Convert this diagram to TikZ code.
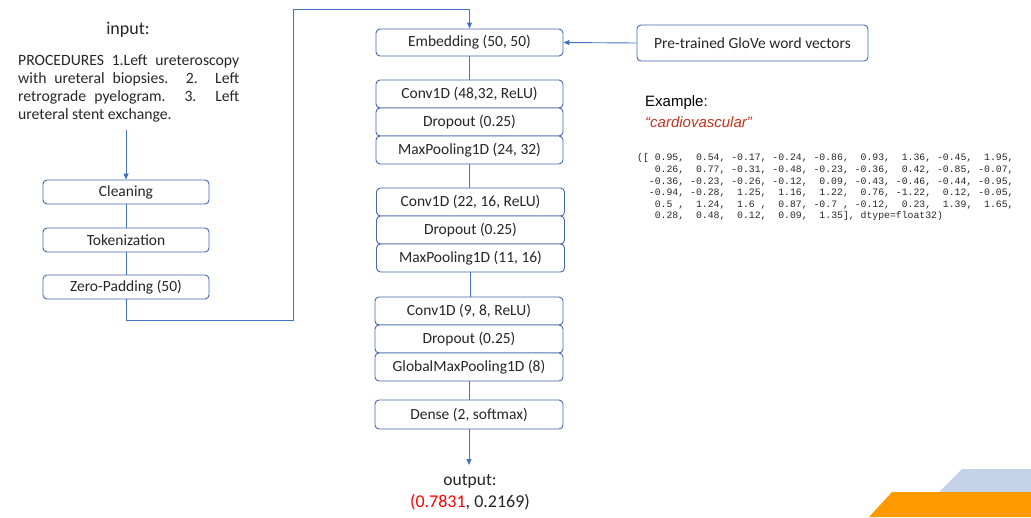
\documentclass[tikz,border=0pt]{standalone}
\usepackage{fontspec}
\setmainfont{Carlito}
\newfontfamily\helv{Liberation Sans}
\newfontfamily\monof{Liberation Mono}
\usetikzlibrary{arrows.meta}
\definecolor{boxc}{RGB}{68,104,170}
\definecolor{linec}{RGB}{68,114,196}
\definecolor{txt}{RGB}{38,38,38}
\definecolor{exred}{RGB}{196,50,30}
\definecolor{lblue}{RGB}{197,211,232}
\definecolor{orng}{RGB}{255,153,0}
\tikzset{
  layer/.style={draw=boxc, line width=0.9pt, rounded corners=4pt, fill=white, inner sep=0pt,
    text=txt, font=\fontsize{15.5}{18}\selectfont},
  conn/.style={draw=linec, line width=0.9pt},
  arr/.style={conn, -{Triangle[length=6pt,width=5pt]}},
}
\begin{document}
\begin{tikzpicture}[x=1pt, y=-1pt]
\useasboundingbox (0,0) rectangle (1031,517);
% decoration
\fill[lblue] (962,469) -- (1031,469) -- (1031,492) -- (939,492) -- cycle;
\fill[orng] (892,492) -- (1031,492) -- (1031,517) -- (869,517) -- cycle;

% input text
\node[text=txt, font=\fontsize{18}{20}\selectfont] (inlab) at (128,30) {input:};
\node[anchor=north west, inner sep=0pt, text width=221pt, align=justify, text=txt,
  font=\fontsize{15.7}{18}\selectfont] (intext) at (18,54.5)
  {PROCEDURES 1.Left ureteroscopy\linebreak with ureteral biopsies. 2. Left\linebreak retrograde pyelogram. 3. Left\linebreak ureteral stent exchange.};

% left column
\node[layer, minimum width=166pt, minimum height=24pt] (clean) at (126,192) {Cleaning};
\node[layer, minimum width=166pt, minimum height=24pt] (tok) at (126,240) {Tokenization};
\node[layer, minimum width=166pt, minimum height=24pt] (zp) at (126,287) {Zero-Padding (50)};
\coordinate (instart) at (126,130);
\draw[arr] (instart) -- (clean.north);
\draw[conn] (clean.south) -- (tok.north);
\draw[conn] (tok.south) -- (zp.north);

% middle column
\node[layer, minimum width=187pt, minimum height=27pt] (emb) at (469.5,42.5) {Embedding (50, 50)};
\node[layer, minimum width=187pt, minimum height=28pt] (c1) at (469.5,94) {Conv1D (48,32, ReLU)};
\node[layer, minimum width=187pt, minimum height=28pt] (d1) at (469.5,122) {Dropout (0.25)};
\node[layer, minimum width=187pt, minimum height=28pt] (m1) at (469.5,150) {MaxPooling1D (24, 32)};
\node[layer, minimum width=188pt, minimum height=28pt] (c2) at (470.5,202) {Conv1D (22, 16, ReLU)};
\node[layer, minimum width=188pt, minimum height=28pt] (d2) at (470.5,230) {Dropout (0.25)};
\node[layer, minimum width=188pt, minimum height=28pt] (m2) at (470.5,258) {MaxPooling1D (11, 16)};
\node[layer, minimum width=188pt, minimum height=28pt] (c3) at (469,311) {Conv1D (9, 8, ReLU)};
\node[layer, minimum width=188pt, minimum height=28pt] (d3) at (469,339) {Dropout (0.25)};
\node[layer, minimum width=188pt, minimum height=28pt] (g3) at (469,367) {GlobalMaxPooling1D (8)};
\node[layer, minimum width=188pt, minimum height=29pt] (dense) at (469,414.5) {Dense (2, softmax)};

\coordinate (tA) at (293,320);
\coordinate (tB) at (293,9);
\draw[arr] (zp.south) |- (tA) -- (tB) -| (emb.north);
\draw[conn] (emb.south) -- (c1.north);
\draw[conn] (m1.south) -- (m1.south |- c2.north);
\draw[conn] (m2.south) -- (m2.south |- c3.north);
\draw[conn] (g3.south) -- (dense.north);

\node[inner sep=0pt, text=txt, font=\fontsize{17.5}{20}\selectfont] (outlab) at (470,481) {output:};
\node[inner sep=0pt, text=txt, font=\fontsize{18}{20}\selectfont] (outval) at (470,502) {\textcolor{red}{(0.7831}, 0.2169)};
\coordinate (outtip) at (469,465);
\draw[arr] (dense.south) -- (outtip);

% glove
\node[layer, minimum width=231pt, minimum height=36pt] (glove) at (752.5,43) {Pre-trained GloVe word vectors};
\draw[arr] (glove.west) -- (emb.east);

% example
\node[anchor=west, inner sep=0pt, font=\helv\fontsize{15}{17}\selectfont, text=black] (exlab) at (645,103) {Example:};
\node[anchor=west, inner sep=0pt, font=\helv\itshape\fontsize{15}{17}\selectfont, text=exred] (exword) at (645,122) {“cardiovascular”};
\node[anchor=north west, inner sep=0pt, align=left, text=black!85,
  font=\monof\fontsize{9.8}{11.6}\selectfont] (vec) at (637,153.5)
{([~0.95,~~0.54,~-0.17,~-0.24,~-0.86,~~0.93,~~1.36,~-0.45,~~1.95,\\
~~~0.26,~~0.77,~-0.31,~-0.48,~-0.23,~-0.36,~~0.42,~-0.85,~-0.07,\\
~~-0.36,~-0.23,~-0.26,~-0.12,~~0.09,~-0.43,~-0.46,~-0.44,~-0.95,\\
~~-0.94,~-0.28,~~1.25,~~1.16,~~1.22,~~0.76,~-1.22,~~0.12,~-0.05,\\
~~~0.5~,~~1.24,~~1.6~,~~0.87,~-0.7~,~-0.12,~~0.23,~~1.39,~~1.65,\\
~~~0.28,~~0.48,~~0.12,~~0.09,~~1.35],~dtype=float32)};
\end{tikzpicture}
\end{document}
